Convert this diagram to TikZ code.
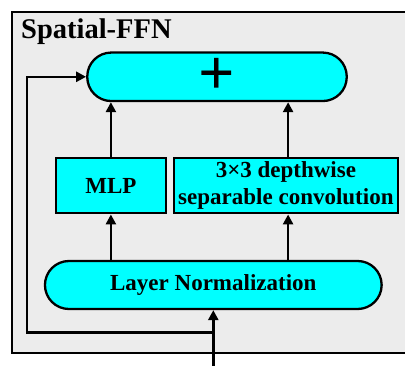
\documentclass[tikz,border=0pt]{standalone}
\usepackage{fontspec}
\setmainfont{Liberation Serif}
\usetikzlibrary{arrows.meta}
\definecolor{panelgray}{HTML}{ECECEC}
\definecolor{blockcyan}{HTML}{00FFFF}
\tikzset{
  block/.style={draw=black, line width=2.3pt, fill=blockcyan, inner sep=0pt,
    font=\fontsize{23}{27}\selectfont\bfseries, align=center},
  pill/.style={block, rounded corners=24pt},
  flow/.style={line width=2.6pt, -{Triangle[length=10pt,width=10pt]}},
}
\begin{document}
\begin{tikzpicture}[x=1pt, y=-1pt]
  \useasboundingbox (0,0) rectangle (405,365);
  \clip (0,0) rectangle (405,365);

  % module frame and title
  \draw[fill=panelgray, line width=1.7pt] (11.7,11.7) rectangle (420,352.8);
  \node[anchor=base west, inner sep=0pt, font=\fontsize{28.5}{30}\selectfont\bfseries]
    (title) at (21,38) {Spatial-FFN};

  % blocks
  \node[pill, minimum width=259.5pt, minimum height=48.5pt,
        font=\fontsize{64}{64}\selectfont\bfseries] (add) at (217,76.8) {+};
  \node[block, minimum width=109.7pt, minimum height=55pt] (mlp) at (110.9,185.8) {MLP};
  \node[block, minimum width=223.7pt, minimum height=55pt] (conv) at (285.9,185.8)
    {3×3 depthwise\\separable convolution};
  \node[pill, minimum width=336.7pt, minimum height=48pt] (ln) at (213.3,285) {Layer Normalization};

  % input and residual path
  \coordinate (input) at (213.3,370);
  \coordinate (split) at (213.3,332.3);
  \coordinate (corner) at (27,332.3);
  \draw[flow] (input) -- (ln.south);
  \draw[flow] (split) -- (corner) |- (add.west);

  % branches
  \draw[flow] (ln.north -| mlp.north) -- (mlp.south);
  \draw[flow] ([xshift=2.2pt]ln.north -| conv.north) -- ([xshift=2.2pt]conv.south);
  \draw[flow] (mlp.north) -- (mlp.north |- add.south);
  \draw[flow] ([xshift=2.2pt]conv.north) -- ([xshift=2.2pt]conv.north |- add.south);
\end{tikzpicture}
\end{document}
